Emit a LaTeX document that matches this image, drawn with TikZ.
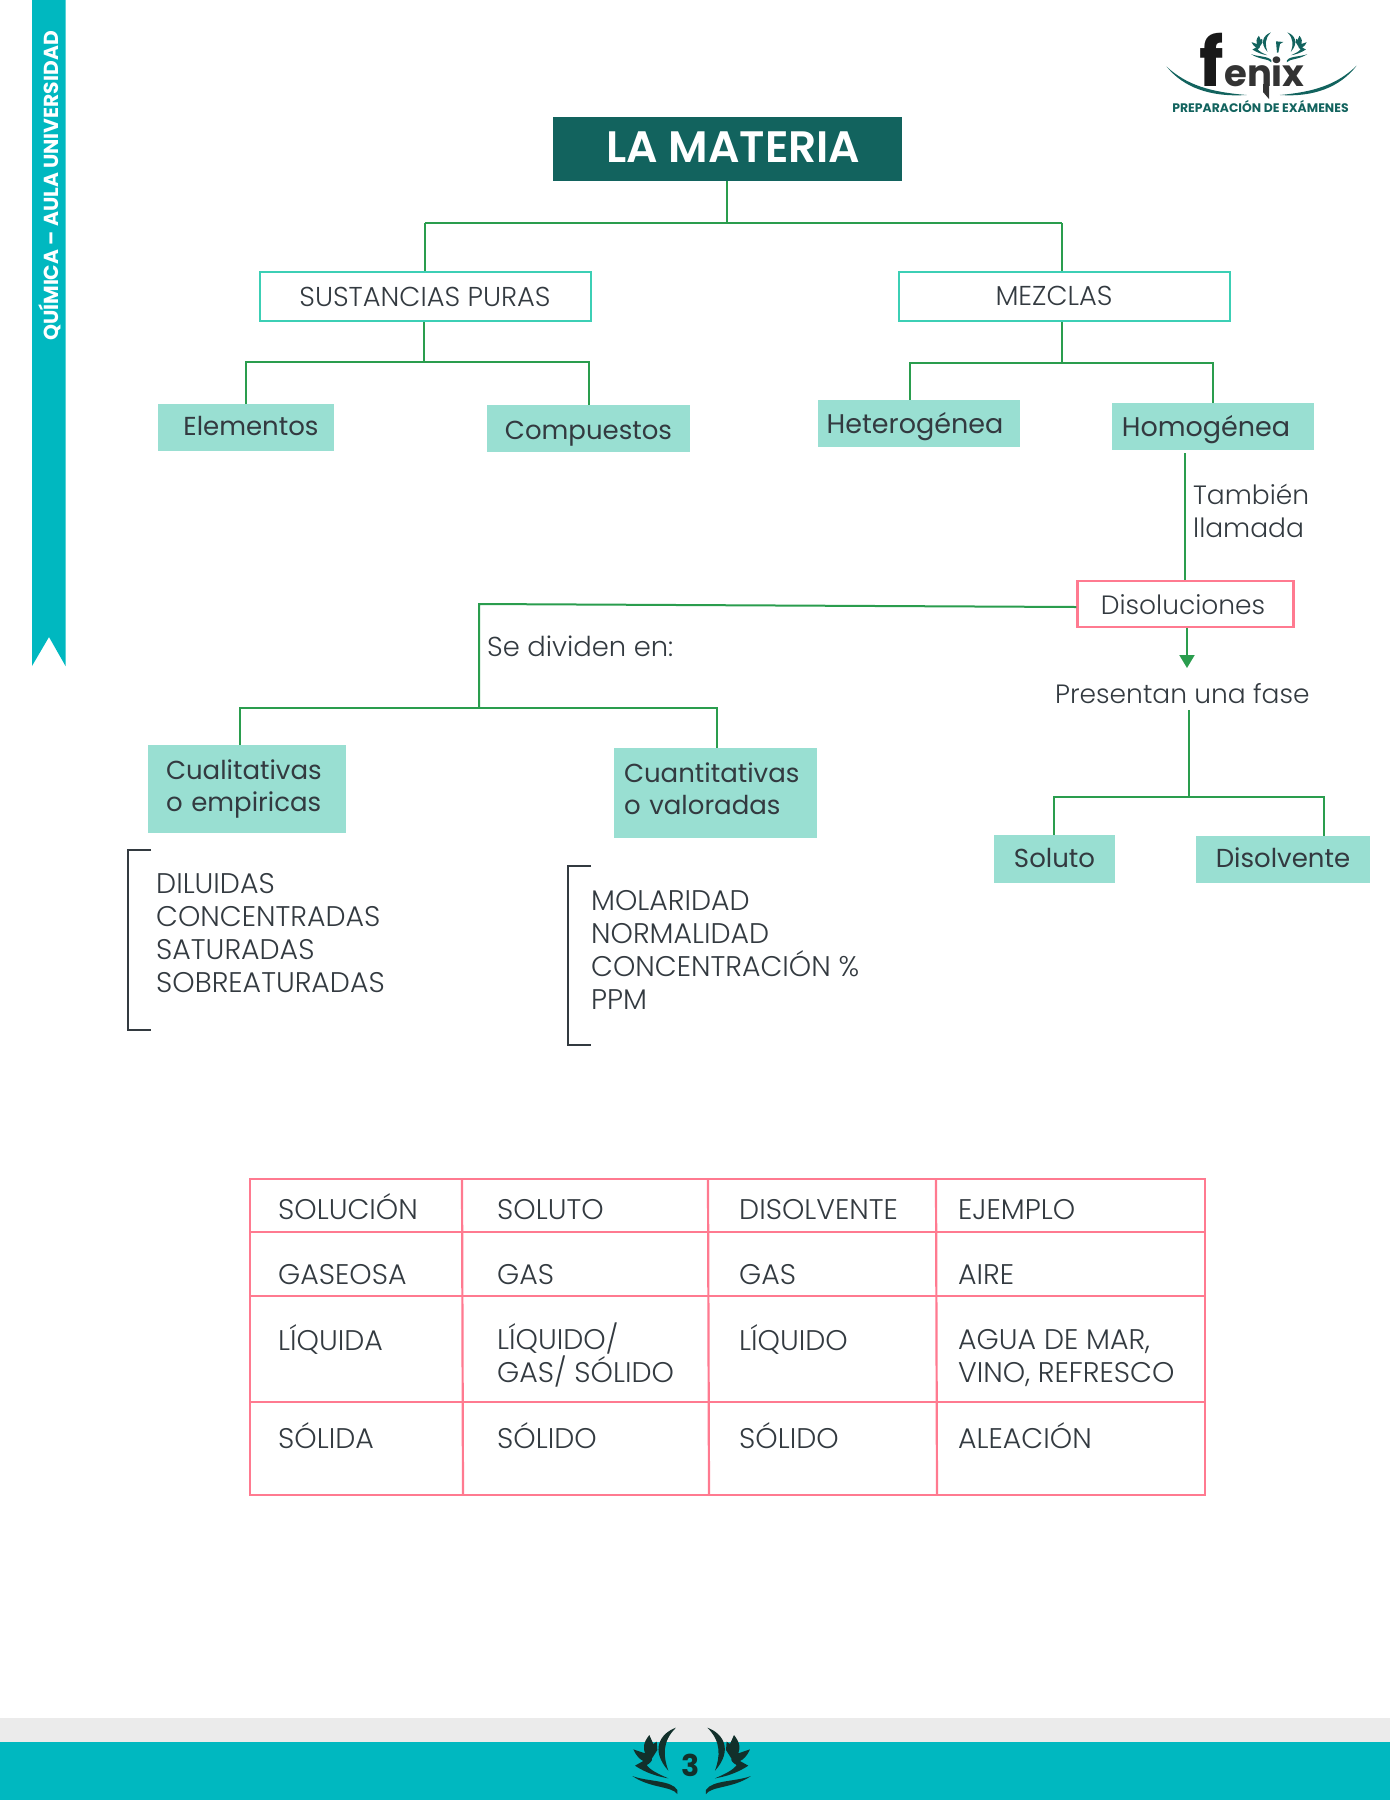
\documentclass[tikz,border=0pt]{standalone}
\usepackage{fontspec}
\usetikzlibrary{arrows.meta}
\setmainfont{Poppins}[UprightFont=* Light,BoldFont=* SemiBold]
\newfontfamily\boldf{Poppins}[UprightFont=* Bold]
\newfontfamily\regf{Poppins}
\definecolor{ribbon}{HTML}{00B8C0}
\definecolor{titlec}{HTML}{12635E}
\definecolor{mint}{HTML}{99DFD2}
\definecolor{edgeteal}{HTML}{3CCFB5}
\definecolor{pinkc}{HTML}{FF7A90}
\definecolor{greenc}{HTML}{2A9D4E}
\definecolor{ink}{HTML}{333A40}
\definecolor{wreath}{HTML}{12302B}
\definecolor{logoteal}{HTML}{12635E}
\definecolor{grayband}{HTML}{EBEBEB}
\newcommand{\wingpath}{(228,83) .. controls (180,100) and (150,150) .. (205,212) .. controls (190,170) and (185,125) .. (228,83) -- cycle
(148,105) .. controls (128,130) and (130,145) .. (135,160) -- (100,148) .. controls (110,170) and (120,178) .. (130,183) -- (105,197) .. controls (140,220) and (175,230) .. (205,235) .. controls (175,222) and (150,210) .. (140,195) .. controls (150,190) and (158,182) .. (156,175) -- (172,150) -- (170,125) -- (160,132) -- cycle
(97,228) .. controls (140,245) and (215,240) .. (232,270) -- (232,282) .. controls (215,258) and (150,265) .. (97,228) -- cycle}
\tikzset{
 x=1pt,y=-1pt,
 txt/.style={font=\fontsize{26.5}{32.7}\selectfont,text=ink,inner sep=0pt},
 capstxt/.style={font=\fontsize{28.4}{32.7}\selectfont,text=ink,inner sep=0pt},
 lab/.style={txt,anchor=base west,align=left},
 capslab/.style={capstxt,anchor=base west,align=left},
 outlinebox/.style={draw=edgeteal,line width=2pt,fill=white,capstxt,font=\fontsize{27.3}{32.7}\selectfont,minimum width=331pt,minimum height=49pt,text height=34pt,text depth=15pt},
 pinkbox/.style={draw=pinkc,line width=2.4pt,fill=white,txt,minimum width=216pt,minimum height=46pt,text height=33pt,text depth=13pt},
 mintbox/.style={fill=mint,txt,font=\fontsize{26}{32.7}\regf,minimum height=47pt,text height=33pt,text depth=14pt},
 mintmulti/.style={fill=mint,txt,font=\fontsize{26}{32}\regf,align=left,anchor=center},
 conn/.style={draw=greenc,line width=2pt},
 grid/.style={draw=pinkc,line width=2.2pt},
 brack/.style={draw=ink,line width=2pt},
}
\begin{document}
\begin{tikzpicture}
\useasboundingbox (0,0) rectangle (1390,1800);
% ribbon
\fill[ribbon] (32,0) -- (65.5,0) -- (65.5,666) -- (49,637) -- (32,666) -- cycle;
\node[rotate=90,inner sep=0pt,text=white,anchor=center,font=\fontsize{20.3}{24}\boldf] (ribbontext) at (50,186) {QUÍMICA – AULA UNIVERSIDAD};
% footer
\fill[grayband] (0,1718) rectangle (1390,1742);
\fill[ribbon] (0,1742) rectangle (1390,1800);
\begin{scope}[shift={(600,1700)},x=0.3333pt,y=-0.3333pt]
 \fill[wreath] \wingpath;
 \begin{scope}[shift={(550,0)},xscale=-1]
  \fill[wreath] \wingpath;
 \end{scope}
\end{scope}
\node[inner sep=0pt,text=wreath,font=\fontsize{30}{30}\boldf,anchor=base] (pagenum) at (691,1776) {3};
% logo
\begin{scope}[shift={(1130,0)},x=0.3333pt,y=-0.3333pt]
 \fill[logoteal] (110,200) .. controls (160,262) and (240,292) .. (350,285) .. controls (240,276) and (170,255) .. (110,200) -- cycle;
 \fill[logoteal] (680,197) .. controls (630,262) and (550,292) .. (450,285) .. controls (550,276) and (620,255) .. (680,197) -- cycle;
 \begin{scope}[shift={(320,60)},scale=.45]
  \fill[logoteal] \wingpath;
 \end{scope}
 \begin{scope}[shift={(575,60)},xscale=-.45,yscale=.45]
  \fill[logoteal] \wingpath;
 \end{scope}
 \fill[logoteal] (441,158) -- (438,124) -- (460,126) -- (450,132) -- (445,158) -- cycle;
\end{scope}
\node[inner sep=0pt,text=black!90,font=\fontsize{68}{68}\boldf,anchor=base] (logof) at (1212,86) {f};
\node[inner sep=0pt,text=black!80,font=\fontsize{37}{37}\boldf,anchor=base west] (logoenix) at (1224,86) {enix};
\fill[black!80] (1263,84) -- (1269,84) -- (1269,99) -- (1263,92) -- cycle;
\node[inner sep=0pt,text=logoteal,font=\fontsize{12.4}{14}\boldf,anchor=base] (logosub) at (1260.5,112) {PREPARACIÓN DE EXÁMENES};
% junctions
\coordinate (jt) at (727,223);
\coordinate (js) at (424,362);
\coordinate (jm) at (1062,363);
\coordinate (jd) at (479,604);
\coordinate (jc) at (479,708);
\coordinate (jf) at (1189,797);
\coordinate (pstart) at (1189,710);
% boxes
\node[fill=titlec,text=white,inner sep=0pt,minimum width=349pt,minimum height=64pt,font=\fontsize{44}{44}\selectfont\bfseries,text height=45pt,text depth=19pt] (title) at (727.5,149) {\kern12pt LA MATERIA};
\node[outlinebox] (sus) at (425,296.5) {SUSTANCIAS PURAS};
\node[outlinebox,minimum height=48pt] (mez) at (1064,296) {\kern-20pt MEZCLAS};
\node[mintbox,minimum width=176pt,text height=31pt,text depth=16pt] (ele) at (246,427.5) {\kern10pt Elementos};
\node[mintbox,minimum width=203pt,text height=34pt,text depth=13pt] (com) at (588.5,428.5) {Compuestos};
\node[mintbox,minimum width=202pt,font=\fontsize{27}{32.7}\regf] (het) at (919,423.5) {\kern-8pt Heterogénea};
\node[mintbox,minimum width=202pt,font=\fontsize{27}{32.7}\regf] (hom) at (1213,426.5) {\kern-14pt Homogénea};
\node[pinkbox] (dis) at (1185.5,604) {\kern-5pt Disoluciones};
\node[mintbox,minimum width=121pt,minimum height=48pt,text height=32pt,text depth=16pt] (sol) at (1054.5,859) {Soluto};
\node[mintbox,minimum width=174pt,text height=31pt,text depth=16pt] (dsv) at (1283,859.5) {Disolvente};
\node[mintmulti,minimum width=198pt,minimum height=88pt,text width=162pt] (cual) at (247,789) {Cualitativas\\o empiricas};
\node[mintmulti,minimum width=203pt,minimum height=90pt,text width=183pt] (cuan) at (715.5,793) {Cuantitativas\\o valoradas\rule[-8pt]{0pt}{8pt}};
% labels
\node[lab] (tamb) at (1193,537) {También\\llamada};
\node[lab,font=\fontsize{27.4}{32.7}\selectfont] (sediv) at (487,656) {Se dividen en:};
\node[lab] (pres) at (1055,703) {Presentan una fase};
\node[capslab] (l1) at (156,992) {DILUIDAS\\CONCENTRADAS\\SATURADAS\\SOBREATURADAS};
\node[capslab] (l2) at (591,1009) {MOLARIDAD\\NORMALIDAD\\CONCENTRACIÓN \%\\PPM};
% connectors
\draw[conn] (title.south -| jt) -- (jt);
\draw[conn] (jt -| sus.north) -- (jt -| jm);
\draw[conn] (jt -| sus.north) -- (sus.north);
\draw[conn] (jt -| jm) -- (jm |- mez.north);
\draw[conn] (js |- sus.south) -- (js);
\draw[conn] (ele.north) -- (ele.north |- js) -- (com.north |- js) -- (com.north);
\draw[conn] (jm |- mez.south) -- (jm);
\draw[conn] (het.north -| 910,0) -- (910,363) -- (1213,363) -- (hom.north);
\coordinate (homfoot) at (1185,453);
\draw[conn] (homfoot) -- (homfoot |- dis.north);
\draw[conn] (dis.west |- 0,607) -- (jd) -- (jc);
\draw[conn] (cual.north -| 240,0) -- (240,708) -- (717,708) -- (cuan.north -| 717,0);
\coordinate (arrowend) at (1187,668);
\draw[conn,-{Triangle[width=15pt,length=13pt]}] (dis.south -| arrowend) -- (arrowend);
\draw[conn] (pstart) -- (jf);
\draw[conn] (sol.north -| 1054,0) -- (1054,797) -- (1324,797) -- (dsv.north -| 1324,0);
% brackets
\draw[brack] (151,850) -- (128,850) -- (128,1030) -- (151,1030);
\draw[brack] (591,866) -- (568,866) -- (568,1045) -- (591,1045);
% table
\draw[grid] (250,1179) rectangle (1205,1495);
\draw[grid] (250,1232) -- (1205,1232);
\draw[grid] (250,1296) -- (1205,1296);
\draw[grid] (250,1402) -- (1205,1402);
\draw[grid] (462,1179) -- (463,1495);
\draw[grid] (708,1179) -- (709,1495);
\draw[grid] (936,1179) -- (937,1495);
\node[capslab] (a1) at (278,1219) {SOLUCIÓN};
\node[capslab] (a2) at (497,1219) {SOLUTO};
\node[capslab] (a3) at (739,1219) {DISOLVENTE};
\node[capslab] (a4) at (958,1219) {EJEMPLO};
\node[capslab] (b1) at (278,1284) {GASEOSA};
\node[capslab] (b2) at (497,1284) {GAS};
\node[capslab] (b3) at (739,1284) {GAS};
\node[capslab] (b4) at (958,1284) {AIRE};
\node[capslab] (c1) at (278,1350) {LÍQUIDA};
\node[capslab] (c2) at (497,1382) {LÍQUIDO/\\GAS/ SÓLIDO};
\node[capslab] (c3) at (739,1350) {LÍQUIDO};
\node[capslab] (c4) at (958,1382) {AGUA DE MAR,\\VINO, REFRESCO};
\node[capslab] (d1) at (278,1448) {SÓLIDA};
\node[capslab] (d2) at (497,1448) {SÓLIDO};
\node[capslab] (d3) at (739,1448) {SÓLIDO};
\node[capslab] (d4) at (958,1448) {ALEACIÓN};
\end{tikzpicture}
\end{document}
